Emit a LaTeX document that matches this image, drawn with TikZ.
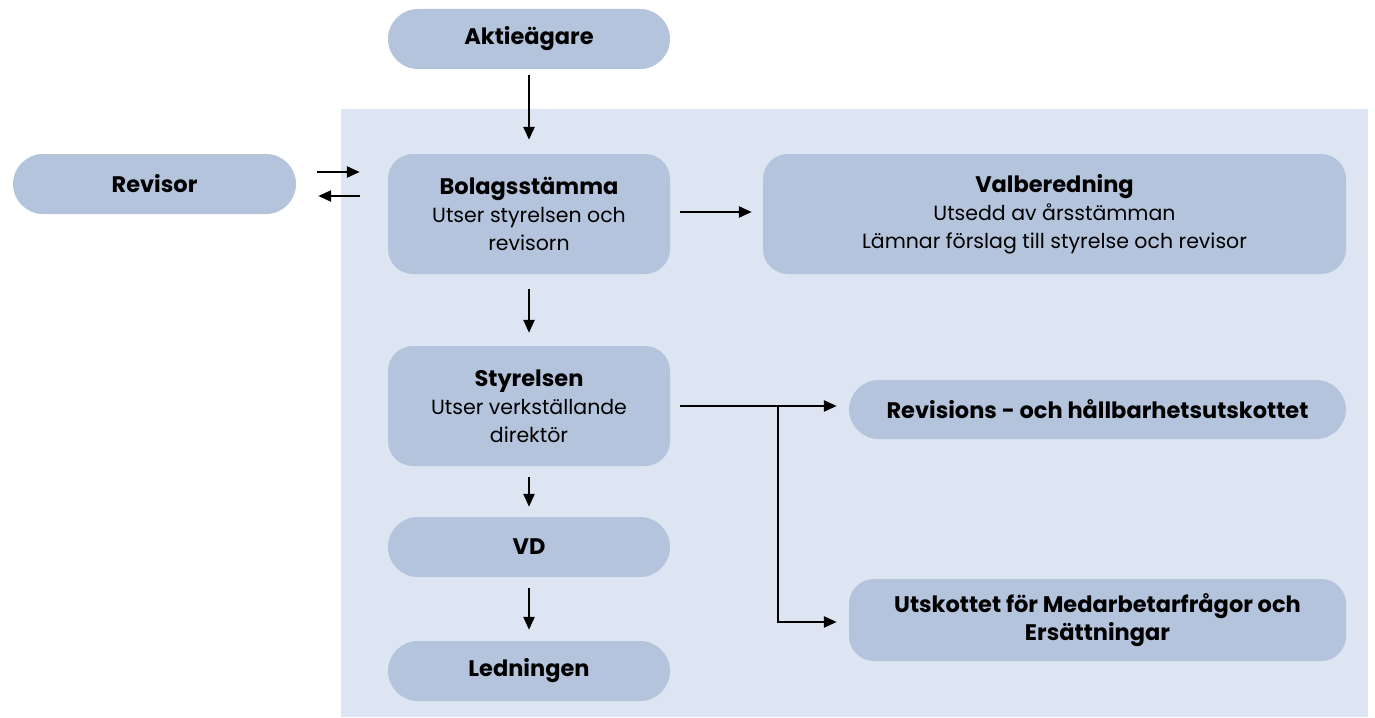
\documentclass[tikz,border=0pt]{standalone}
\usepackage{fontspec}
\setmainfont{Poppins}
\usetikzlibrary{arrows.meta}
\definecolor{boxfill}{RGB}{180,196,220}
\definecolor{bgfill}{RGB}{220,229,241}
\tikzset{
  pill/.style={fill=boxfill, rounded corners=30pt, minimum height=60pt, inner sep=0pt, align=center,
    font=\fontsize{22.5}{28}\selectfont\bfseries},
  bigbox/.style={fill=boxfill, rounded corners=25pt, minimum height=120pt, inner sep=0pt, align=center,
    font=\fontsize{20.5}{28}\selectfont},
  arr/.style={line width=2.5pt, -{Triangle[length=13pt,width=11pt]}}
}
\newcommand{\bt}[1]{{\fontsize{22.5}{28}\selectfont\bfseries #1}}
\begin{document}
\begin{tikzpicture}[x=1pt,y=-1pt]
\useasboundingbox (0,0) rectangle (1375,717);
\fill[bgfill] (341,109) rectangle (1368,717);

\node[pill, minimum width=282pt] (akt) at (529,39) {\raisebox{-3pt}{Aktieägare}};
\node[pill, minimum width=283pt] (rev) at (154.5,184) {Revisor};
\node[bigbox, minimum width=282pt] (bol) at (529,214) {\bt{Bolagsstämma}\\Utser styrelsen och\\revisorn};
\node[bigbox, minimum width=583pt] (val) at (1054.5,214) {\bt{Valberedning}\\Utsedd av årsstämman\\Lämnar förslag till styrelse och revisor};
\node[bigbox, minimum width=282pt] (sty) at (529,406) {\bt{Styrelsen}\\Utser verkställande\\direktör};
\node[pill, minimum width=282pt] (vd) at (529,547) {VD};
\node[pill, minimum width=282pt] (led) at (529,671) {Ledningen};
\node[pill, minimum width=497pt, minimum height=59pt] (rh) at (1097.5,409.5) {Revisions - och hållbarhetsutskottet};
\node[pill, rounded corners=25pt, minimum width=497pt, minimum height=82pt] (ut) at (1097.5,620) {Utskottet för Medarbetarfrågor och\\Ersättningar};

\draw[arr] ([yshift=-6pt]akt.south) -- ([yshift=14pt]bol.north);
\draw[arr] ([xshift=21pt,yshift=12pt]rev.east) -- ([xshift=-28pt,yshift=12pt]rev.east -| bol.west);
\draw[arr] ([xshift=-28pt,yshift=-12pt]rev.east -| bol.west) -- ([xshift=22pt,yshift=-12pt]rev.east);
\draw[arr] ([xshift=10pt,yshift=2pt]bol.east) -- ([xshift=-11pt,yshift=2pt]val.west);
\draw[arr] ([yshift=-15pt]bol.south) -- ([yshift=13pt]sty.north);
\draw[arr] ([yshift=-11pt]sty.south) -- ([yshift=10pt]vd.north);
\draw[arr] ([yshift=-11pt]vd.south) -- ([yshift=11pt]led.north);
\draw[arr] ([xshift=10pt]sty.east) -- ([xshift=-12pt]rh.west |- sty.east);
\coordinate (br) at (778,406);
\draw[arr] (br) |- ([xshift=-12pt,yshift=-2pt]ut.west);
\end{tikzpicture}
\end{document}
